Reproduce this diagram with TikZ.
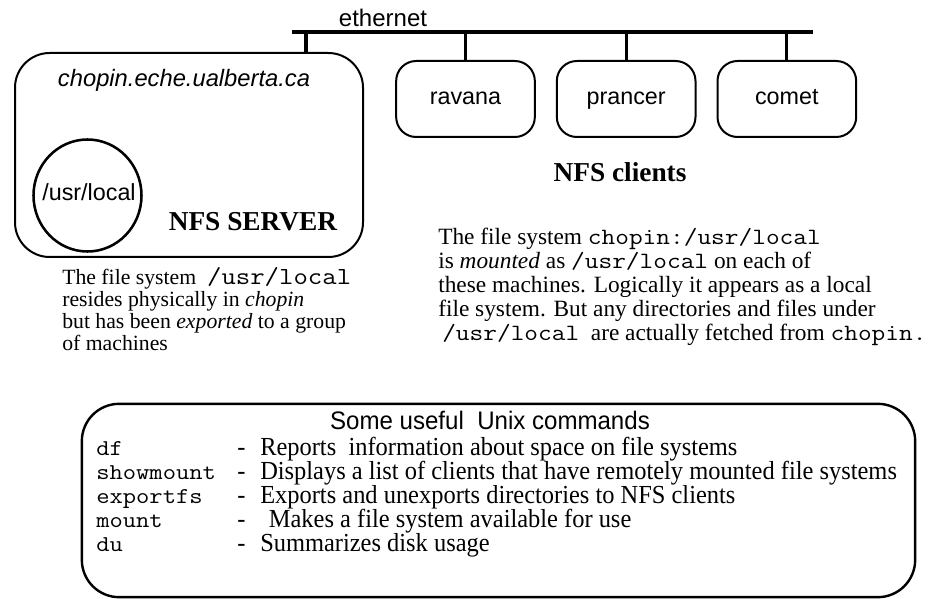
\documentclass[tikz,border=0pt]{standalone}
\usepackage{fontspec}
\setmainfont{Liberation Serif}
\setsansfont{Liberation Sans}
\setmonofont[FakeStretch=1.14]{Latin Modern Mono}
\newfontfamily\narrowserif[FakeStretch=0.94]{Liberation Serif}
\newfontfamily\narrowsans[FakeStretch=0.95]{Liberation Sans}
\usetikzlibrary{positioning,shapes.geometric}

\newcommand{\cmdname}[1]{\makebox[105.75pt][l]{\fontsize{17}{18}\selectfont\ttfamily #1}}
\newcommand{\cmddash}{\makebox[17.25pt][l]{-}}

\begin{document}
\begin{tikzpicture}[
x=0.75pt, y=-0.75pt,
node distance=15pt,
host/.style={draw, line width=1.5pt, rounded corners=15pt, minimum width=104pt, minimum height=57pt, text height=12.5pt, text depth=3.5pt, font=\sffamily\fontsize{17.5}{21}\selectfont},
wire/.style={line width=2.3pt},
note/.style={align=left, inner sep=0pt, anchor=north west},
heading/.style={font=\bfseries\fontsize{20.5}{24}\selectfont, inner sep=0pt}
]
\useasboundingbox (0,0) rectangle (940,599);

% -------- Ethernet --------
\coordinate (eth-w) at (292,32);
\coordinate (eth-e) at (813,32);
\draw[wire] (eth-w) -- (eth-e);
\node[font=\sffamily\fontsize{18}{21}\selectfont, inner sep=0pt, anchor=base] (ethlabel) at (383,27) {ethernet};

% -------- Server --------
\node[draw, line width=1.5pt, rounded corners=26pt, minimum width=261pt, minimum height=153pt] (server) at (189,155) {};
\node[font=\sffamily\itshape\fontsize{17.8}{21}\selectfont] (srvname) at (184,80) {chopin.eche.ualberta.ca};
\node[draw, ellipse, line width=1.9pt, minimum width=81pt, minimum height=84pt, inner sep=0pt] (usrdisk) at (87.5,195.5) {};
\node[font=\sffamily\fontsize{17.5}{21}\selectfont, inner sep=0pt] (usrlabel) at (89,192) {/usr/local};
\node[heading] (srvtitle) at (253,222) {NFS SERVER};

\coordinate (srvtap) at (306,32);
\draw[wire] (srvtap) -- (srvtap |- server.north);

\node[note, font=\fontsize{16.3}{16.5}\selectfont] (srvnote) at (62,267)
{The file system \ {\fontsize{18.4}{16.5}\selectfont\ttfamily/usr/local}\\
resides physically in \textit{chopin}\\
but has been \textit{exported} to a group\\
of machines};

% -------- Clients --------
\node[host] (ravana) at (465.5,99) {ravana};
\node[host, right=15pt of ravana] (prancer) {prancer};
\node[host, right=15pt of prancer] (comet) {comet};

\draw[wire] (ravana.north) -- (ravana.north |- eth-w);
\draw[wire] (prancer.north) -- (prancer.north |- eth-w);
\draw[wire] (comet.north) -- (comet.north |- eth-w);

\node[heading] (clititle) at (620,172) {NFS clients};

\node[note, font=\fontsize{17.5}{18}\selectfont] (clinote) at (438,228)
{The file system \texttt{chopin:/usr/local}\\
is \textit{mounted} as \texttt{/usr/local} on each of\\
these machines. Logically it appears as a local\\
file system. But any directories and files under\\
\hspace*{3pt}\texttt{/usr/local}\ \ are actually fetched from \texttt{chopin.}};

% -------- Commands --------
\node[draw, line width=1.8pt, rounded corners=28pt, minimum width=625pt, minimum height=145pt] (cmdbox) at (498.5,500.5) {};
\node[font=\narrowsans\fontsize{19}{20}\selectfont, inner sep=0pt] (cmdtitle) at (490,420) {Some useful\ \ Unix commands};

\node[note, font=\narrowserif\fontsize{19.5}{18}\selectfont] (cmdlist) at (96,437)
{\cmdname{df}\cmddash Reports\ \ information about space on file systems\\
\cmdname{showmount}\cmddash Displays a list of clients that have remotely mounted file systems\\
\cmdname{exportfs}\cmddash Exports and unexports directories to NFS clients\\
\cmdname{mount}\cmddash\,\,Makes a file system available for use\\
\cmdname{du}\cmddash Summarizes disk usage};

\end{tikzpicture}
\end{document}
